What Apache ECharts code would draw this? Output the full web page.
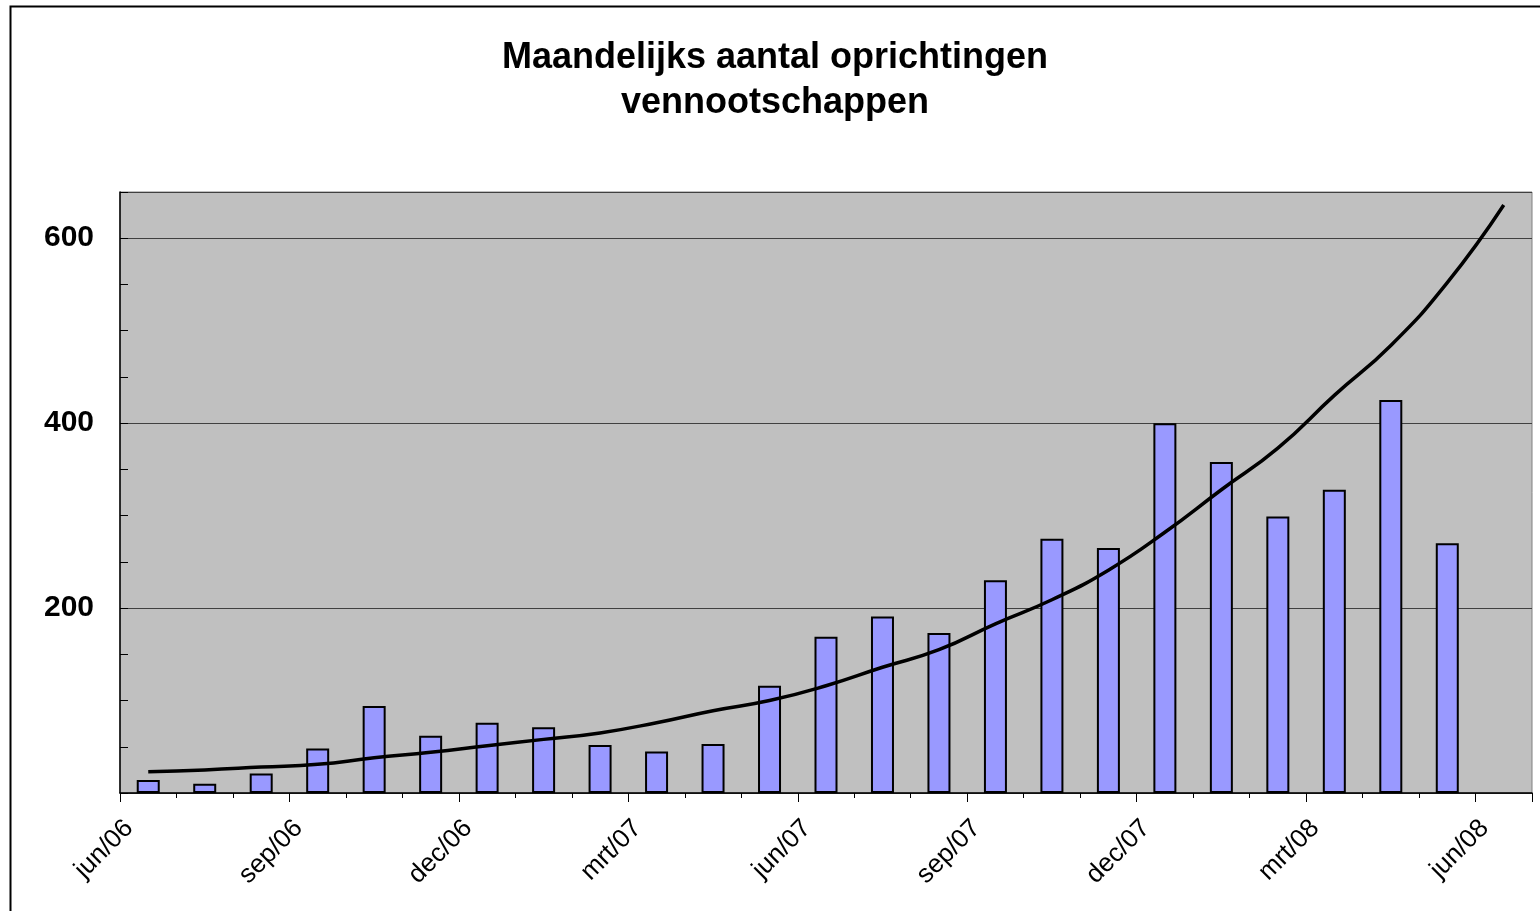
<!DOCTYPE html>
<html lang="nl">
<head>
  <meta charset="UTF-8">
  <title>Maandelijks aantal oprichtingen vennootschappen</title>
  <script src="https://cdn.jsdelivr.net/npm/echarts@6/dist/echarts.min.js"></script>
  <style>
    html, body { margin: 0; padding: 0; background: #fff; }
    #chart { width: 1540px; height: 911px; }
  </style>
</head>
<body>
<div id="chart"></div>
<script>
  // months since jun/06; bars sit in the middle of each month
  const tickLabels = ["jun/06", "sep/06", "dec/06", "mrt/07", "jun/07", "sep/07", "dec/07", "mrt/08", "jun/08"];
  const monthly = [14, 10, 21, 48, 94, 62, 76, 71, 52, 45, 53, 116,
                   169, 191, 173, 230, 275, 265, 400, 358, 299, 328, 425, 270];
  // trend line read at each month middle (one month further than the bars)
  const trend = [23, 25, 28, 31, 38, 44, 51, 58, 65, 76, 89, 100,
                 116, 136, 155, 183, 209, 241, 282, 328, 373, 430, 484, 552, 636];

  const barData = monthly.map((v, i) => [i + 0.5, v]);
  const lineData = trend.map((v, i) => [i + 0.5, v]);

  const chart = echarts.init(document.getElementById("chart"));
  chart.setOption({
    animation: false,
    title: {
      text: "Maandelijks aantal oprichtingen\nvennootschappen",
      left: 770, top: 31, textAlign: "center",
      textStyle: { fontFamily: "Liberation Sans, Arial", fontWeight: "bold", fontSize: 36, lineHeight: 45, color: "#000" }
    },
    graphic: [{
      type: "rect", silent: true, z: -1,
      shape: { x: 10.5, y: 6.5, width: 1560, height: 940 },
      style: { fill: "none", stroke: "#000", lineWidth: 2 }
    }],
    grid: {
      left: 120, right: 8, top: 192, bottom: 118,
      show: true, backgroundColor: "#c0c0c0", borderColor: "#808080", borderWidth: 1
    },
    xAxis: {
      type: "value", min: 0, max: 25, interval: 3,
      axisLine: { show: true, lineStyle: { color: "#000", width: 1.5 } },
      axisTick: { show: true, length: 9, lineStyle: { color: "#000" } },
      minorTick: { show: true, splitNumber: 3, length: 5, lineStyle: { color: "#000" } },
      splitLine: { show: false },
      axisLabel: {
        rotate: 45, margin: 22, showMaxLabel: false, verticalAlign: "top",
        fontFamily: "Liberation Sans, Arial", fontSize: 26, color: "#000",
        formatter: v => tickLabels[v / 3] || ""
      }
    },
    yAxis: {
      type: "value", min: 0, max: 650, interval: 200,
      axisLine: { show: true, lineStyle: { color: "#000", width: 1.5 } },
      axisTick: { show: true, inside: true, length: 8, lineStyle: { color: "#000" } },
      minorTick: { show: true, splitNumber: 4, length: 8, lineStyle: { color: "#000" } },
      splitLine: { show: true, lineStyle: { color: "#404040", width: 1 } },
      axisLabel: {
        showMinLabel: false, showMaxLabel: false, margin: 26,
        fontFamily: "Liberation Sans, Arial", fontWeight: "bold", fontSize: 30, color: "#000",
        formatter: v => (v === 0 ? "" : String(v))
      }
    },
    series: [
      {
        name: "Oprichtingen", type: "bar", data: barData, barWidth: 23,
        itemStyle: { color: "#9999ff", borderColor: "#000", borderWidth: 2 }
      },
      {
        name: "Trend", type: "line", data: lineData, smooth: true,
        showSymbol: false, z: 5,
        lineStyle: { color: "#000", width: 3.5 }
      }
    ]
  });
</script>
</body>
</html>
